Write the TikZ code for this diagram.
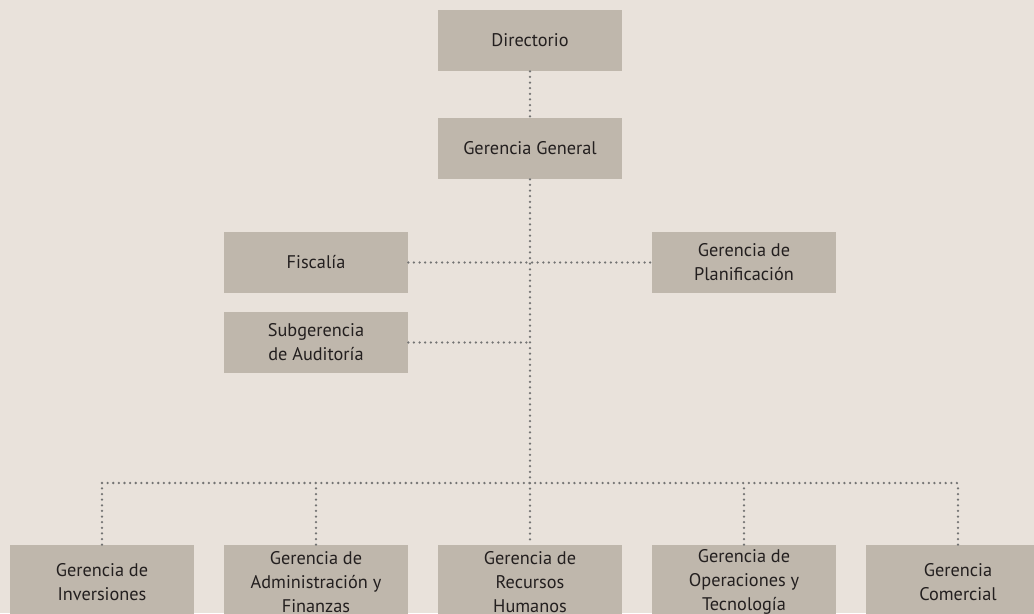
\documentclass[tikz,border=0pt]{standalone}
\usepackage{fontspec}
\setmainfont{PT Sans}
\usepackage{xcolor}
\usetikzlibrary{calc,positioning}

\definecolor{bgtone}{HTML}{E9E2DB}
\definecolor{boxtone}{HTML}{BFB7AC}
\definecolor{dottone}{HTML}{737373}
\definecolor{texttone}{HTML}{231F1F}

\tikzset{
    unit/.style={fill=boxtone, text=texttone, align=center,
        minimum width=4.6cm, minimum height=1.525cm, inner sep=0pt,
        font=\fontsize{13}{17}\selectfont},
    low unit/.style={unit, minimum height=1.85cm},
    link/.style={dottone, line width=1.8pt, line cap=round,
        dash pattern=on 0pt off 4pt}
}

\begin{document}
\begin{tikzpicture}[x=0.025cm, y=-0.025cm]

    % page and background
    \fill[bgtone] (0,0) rectangle (1034,613);
    \useasboundingbox (0,0) rectangle (1034,613);
    \clip (0,0) rectangle (1034,613);

    % top of the chart
    \node[unit] (dir) at (530,40.5) {Directorio};
    \node[unit] (gg)  at (530,148.5) {Gerencia General};

    % staff units beside the trunk
    \node[unit] (fis) at (316,262.5) {Fiscalía};
    \node[unit] (pla) at (744,262.5) {Gerencia de\\Planificación};
    \node[unit] (sub) at (316,342.5) {Subgerencia\\de Auditoría};

    % line units at the bottom
    \foreach \name/\x/\txt in {inv/102/{Gerencia de\\Inversiones},
                               adm/316/{Gerencia de\\Administración y\\Finanzas},
                               rh/530/{Gerencia de\\Recursos\\Humanos},
                               ope/744/{Gerencia de\\Operaciones y\\Tecnología},
                               com/958/{Gerencia\\Comercial}} {
        \node[low unit] (\name) at (\x,582) {\txt};
    }

    % dotted links
    \coordinate (bus) at (530,483);
    \draw[link] (dir.south) -- (gg.north);
    \draw[link] (gg.south) -- (rh.north);
    \draw[link] (fis.east) -- (pla.west);
    \draw[link] (sub.east) -- (sub.east -| gg.south);
    \draw[link] (inv.north |- bus) -- (com.north |- bus);
    \foreach \name in {inv,adm,ope,com} {
        \draw[link] (\name.north) -- (\name.north |- bus);
    }

\end{tikzpicture}
\end{document}
